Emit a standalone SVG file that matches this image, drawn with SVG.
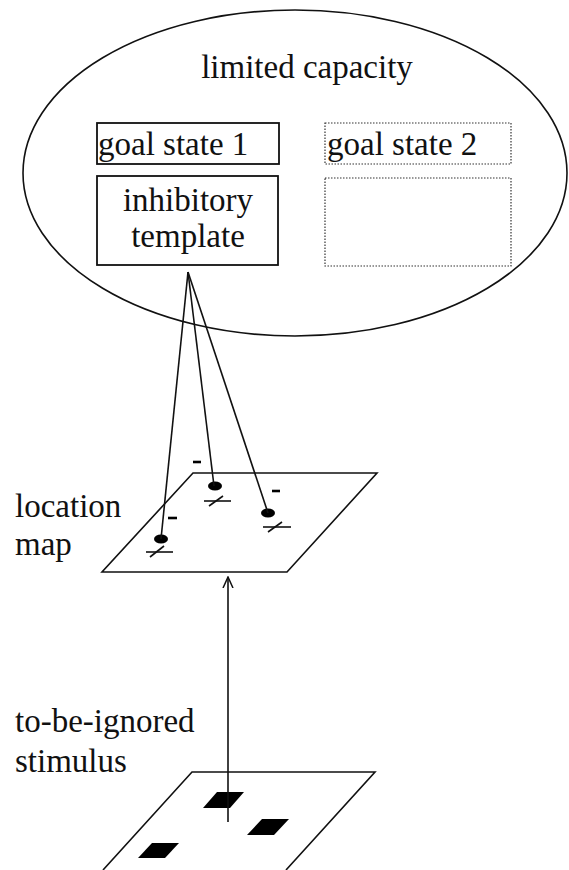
<svg xmlns="http://www.w3.org/2000/svg" width="569" height="870" viewBox="0 0 569 870">
<style>
.t{font-family:'Liberation Serif','Times New Roman',serif;font-size:33px;fill:#111;}
.box{fill:none;stroke:#111;stroke-width:1.8;}
.dot{fill:none;stroke:#333;stroke-width:1.2;stroke-dasharray:1.5,1.5;}
.ln{fill:none;stroke:#111;stroke-width:1.6;}
.blk{fill:#000;}
</style>
<defs>
<marker id="open" viewBox="0 0 12 12" refX="11" refY="6" markerWidth="12" markerHeight="12" markerUnits="userSpaceOnUse" orient="auto">
<path d="M0,1 L11,6 L0,11" fill="none" stroke="#111" stroke-width="1.5"/>
</marker>
</defs>
<rect width="569" height="870" fill="#fff"/>
<g id="limited-capacity">
<ellipse cx="295" cy="173" rx="272" ry="163" class="ln"/>
<text class="t" x="307" y="78" text-anchor="middle">limited capacity</text>
</g>
<g id="goal-state-1">
<rect x="97" y="123" width="182" height="41" class="box"/>
<text class="t" x="98" y="155">goal state 1</text>
</g>
<g id="inhibitory-template">
<rect x="97" y="176" width="181" height="89" class="box"/>
<text class="t" x="188" y="211" text-anchor="middle">inhibitory</text>
<text class="t" x="188" y="247" text-anchor="middle">template</text>
</g>
<g id="goal-state-2">
<rect x="325" y="123" width="186" height="41" class="dot"/>
<text class="t" x="327" y="155">goal state 2</text>
</g>
<g id="empty-slot">
<rect x="325" y="178" width="186" height="88" class="dot"/>
</g>
<g id="location-map">
<polygon points="193,473 377,473 287,572 102,572" class="ln"/>
<text class="t" x="15" y="517">location</text>
<text class="t" x="15" y="555">map</text>
<ellipse cx="161" cy="539" rx="7" ry="4.5" class="blk"/>
<ellipse cx="215" cy="486" rx="7" ry="4.5" class="blk"/>
<ellipse cx="268" cy="513" rx="7" ry="4.5" class="blk"/>
<g class="ln">
<line x1="146" y1="552" x2="173" y2="552"/>
<line x1="150" y1="557" x2="164" y2="546"/>
<line x1="204" y1="501" x2="231" y2="501"/>
<line x1="209" y1="506" x2="223" y2="496"/>
<line x1="263" y1="527" x2="291" y2="527"/>
<line x1="268" y1="532" x2="282" y2="522"/>
</g>
<g stroke="#000" stroke-width="2.6">
<line x1="193" y1="462" x2="201" y2="462"/>
<line x1="272" y1="491" x2="280" y2="491"/>
<line x1="168" y1="518" x2="177" y2="518"/>
</g>
</g>
<g id="stimulus">
<text class="t" x="15" y="732">to-be-ignored</text>
<text class="t" x="15" y="772">stimulus</text>
<polyline points="103,870 192,772 375,772 286,870" class="ln"/>
<polygon points="203,808 217,792 244,792 230,808" class="blk"/>
<polygon points="247,835 262,819 289,819 274,835" class="blk"/>
<polygon points="138,858 152,843 179,843 165,858" class="blk"/>
</g>
<g id="connectors">
<line x1="188" y1="272" x2="161" y2="539" class="ln"/>
<line x1="188" y1="272" x2="214" y2="486" class="ln"/>
<line x1="188" y1="272" x2="268" y2="513" class="ln"/>
<line x1="228" y1="822" x2="228" y2="577" class="ln" marker-end="url(#open)"/>
</g>
</svg>
